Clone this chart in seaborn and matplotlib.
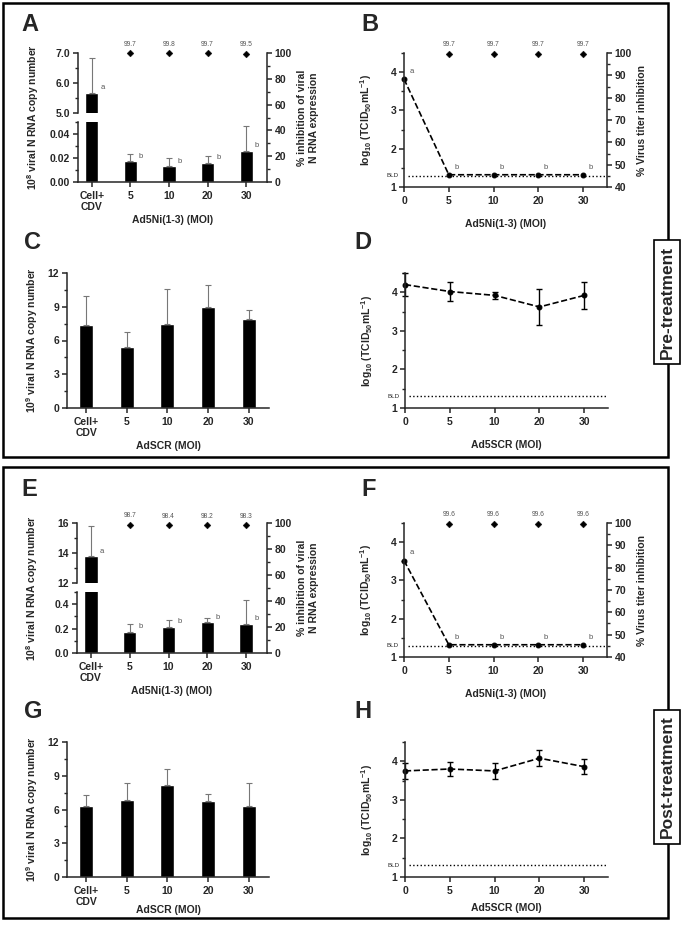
import numpy as np
import pandas as pd
import matplotlib
matplotlib.use('Agg')
import matplotlib.pyplot as plt
from matplotlib.patches import Rectangle
from matplotlib.ticker import MultipleLocator, FixedLocator
import seaborn as sns

# ---- data ----
bar_cats = ['Cell+\nCDV', '5', '10', '20', '30']
moi_labels = ['0', '5', '10', '20', '30']

A_copy = [5.68, 0.0175, 0.013, 0.016, 0.026]
A_sd = [1.15, 0.0055, 0.007, 0.006, 0.021]
A_inhib = [99.7, 99.8, 99.7, 99.5]
A_letters = ['a', 'b', 'b', 'b', 'b']

B_titer = [3.82, 1.32, 1.32, 1.32, 1.32]
B_inhib = [99.7, 99.7, 99.7, 99.7]
B_letters = ['a', 'b', 'b', 'b', 'b']

C_copy = [7.35, 5.45, 7.45, 8.95, 7.95]
C_sd = [2.65, 1.3, 3.15, 2.0, 0.75]

D_titer = [4.2, 4.02, 3.92, 3.62, 3.92]
D_sd = [0.3, 0.25, 0.1, 0.47, 0.35]

E_copy = [13.8, 0.175, 0.215, 0.255, 0.24]
E_sd = [2.0, 0.065, 0.055, 0.035, 0.195]
E_inhib = [98.7, 98.4, 98.2, 98.3]
E_letters = ['a', 'b', 'b', 'b', 'b']

F_titer = [3.52, 1.32, 1.32, 1.32, 1.32]
F_inhib = [99.6, 99.6, 99.6, 99.6]
F_letters = ['a', 'b', 'b', 'b', 'b']

G_copy = [6.3, 6.85, 8.2, 6.8, 6.3]
G_sd = [1.0, 1.5, 1.4, 0.6, 2.1]

H_titer = [3.75, 3.8, 3.75, 4.08, 3.86]
H_sd = [0.2, 0.17, 0.2, 0.2, 0.2]

BLD = 1.3

sns.set_style('ticks')
plt.rcParams['font.family'] = ['Liberation Sans', 'DejaVu Sans']
plt.rcParams['font.weight'] = 'bold'
plt.rcParams['axes.labelweight'] = 'bold'
plt.rcParams['mathtext.fontset'] = 'custom'
plt.rcParams['mathtext.rm'] = 'Liberation Sans:bold'
plt.rcParams['mathtext.bf'] = 'Liberation Sans:bold'
plt.rcParams['mathtext.it'] = 'Liberation Sans:bold:italic'
plt.rcParams['mathtext.default'] = 'bf'
plt.rcParams['axes.linewidth'] = 1.1
plt.rcParams['xtick.major.width'] = 1.1
plt.rcParams['ytick.major.width'] = 1.1
plt.rcParams['ytick.minor.width'] = 1.0
plt.rcParams['xtick.major.size'] = 3.5
plt.rcParams['ytick.major.size'] = 3.5
plt.rcParams['ytick.minor.size'] = 2
plt.rcParams['xtick.major.pad'] = 3
plt.rcParams['ytick.major.pad'] = 2

W, H = 685, 927
fig = plt.figure(figsize=(W / 100, H / 100), dpi=100)

TICK_FS = 7.5
LAB_FS = 7.5
SMALL_FS = 4.8
GREY = '#555555'


def px_axes(l, t, r, b):
    return fig.add_axes([l / W, 1 - b / H, (r - l) / W, (b - t) / H])


def clean(ax):
    ax.spines['top'].set_visible(False)
    ax.spines['right'].set_visible(False)
    ax.tick_params(labelsize=TICK_FS)


def bars(ax, vals, sd, xlim):
    df = pd.DataFrame({'group': bar_cats, 'value': vals})
    sns.barplot(data=df, x='group', y='value', order=bar_cats, color='black',
                width=0.34, errorbar=None, ax=ax, saturation=1)
    ax.errorbar(range(len(vals)), vals, yerr=[np.zeros(len(vals)), sd], fmt='none',
                ecolor='#777777', elinewidth=0.8, capsize=2, capthick=0.8)
    ax.set_xlim(*xlim)
    ax.set_xlabel('')
    ax.set_ylabel('')


def letters(ax, vals, labs, dx):
    for i, (v, s) in enumerate(zip(vals, labs)):
        ax.annotate(s, (i + dx, v), xytext=(0, 1), textcoords='offset points',
                    fontsize=5.5, color=GREY, fontweight='normal', va='bottom', ha='left')


def diamonds(axr, inhib):
    xs = list(range(1, len(inhib) + 1))
    sns.scatterplot(x=xs, y=inhib, marker='D', s=12, color='black', edgecolor='black',
                    ax=axr, clip_on=False, zorder=5)
    for x, v in zip(xs, inhib):
        axr.annotate(f'{v:.1f}', (x, v), xytext=(0, 4), textcoords='offset points',
                     fontsize=SMALL_FS, color=GREY, fontweight='normal', ha='center', va='bottom')


def inhib_overlay(box, xlim, inhib, label):
    axr = px_axes(*box)
    axr.patch.set_visible(False)
    for s in ['left', 'top', 'bottom']:
        axr.spines[s].set_visible(False)
    axr.yaxis.tick_right()
    axr.yaxis.set_label_position('right')
    axr.set_xticks([])
    axr.set_xlim(*xlim)
    axr.set_ylim(0, 100)
    axr.yaxis.set_major_locator(MultipleLocator(20))
    axr.yaxis.set_minor_locator(MultipleLocator(10))
    axr.tick_params(labelsize=TICK_FS, which='both')
    diamonds(axr, inhib)
    axr.set_ylabel(label, fontsize=LAB_FS, labelpad=4)
    return axr


def broken_panel(l, r, t, split_t, split_b, b, vals, sd, labs, up_lim, up_major, up_minor,
                 low_lim, low_major, low_minor, up_fmt, low_fmt, inhib, xlim):
    axu = px_axes(l, t, r, split_t)
    axl = px_axes(l, split_b, r, b)
    for ax, lim, mj, mn, fmt in [(axu, up_lim, up_major, up_minor, up_fmt),
                                 (axl, low_lim, low_major, low_minor, low_fmt)]:
        bars(ax, vals, sd, xlim)
        clean(ax)
        ax.set_ylim(*lim)
        ax.yaxis.set_major_locator(FixedLocator(mj))
        ax.yaxis.set_minor_locator(FixedLocator(mn))
        ax.set_yticklabels([fmt.format(v) for v in mj])
    axu.spines['bottom'].set_visible(False)
    axu.tick_params(axis='x', bottom=False, labelbottom=False)
    letters(axu, vals[:1], labs[:1], 0.22)
    letters(axl, [np.nan] + list(vals[1:]), [''] + labs[1:], 0.22)
    axl.set_xticks(range(5))
    axl.set_xticklabels(bar_cats, fontsize=TICK_FS, linespacing=1.1)
    axl.set_xlabel('Ad5Ni(1-3) (MOI)', fontsize=LAB_FS, labelpad=2)
    inhib_overlay((l, t, r, b), xlim, inhib, '% inhibition of viral\nN RNA expression')
    fig.text((l - 45) / W, 1 - (t + b) / 2 / H, '10$^8$ viral N RNA copy number',
             rotation=90, ha='center', va='center', fontsize=LAB_FS, fontweight='bold')


def titer_panel(box, vals, sd=None, inhib=None, labs=None, xlabel='', xpad=9):
    ax = px_axes(*box)
    clean(ax)
    pos = list(range(5))
    sns.lineplot(x=pos, y=vals, ax=ax, color='black', linestyle='--', dashes=(3, 2),
                 marker='o', markersize=3.5, markeredgecolor='black', lw=1.2, clip_on=False)
    if sd is not None:
        ax.errorbar(pos, vals, yerr=sd, fmt='none', ecolor='black', elinewidth=1.0,
                    capsize=2.2, capthick=1.0, clip_on=False)
    ax.axhline(BLD, ls=':', color='black', lw=1.0, xmin=0.02)
    ax.annotate('BLD', (0, BLD), xycoords=('axes fraction', 'data'), xytext=(-4, 0),
                textcoords='offset points', fontsize=4.5, fontweight='normal',
                ha='right', va='center')
    ax.set_xlim(0, 4.53)
    ax.set_ylim(1, 4.5)
    ax.set_xticks(pos)
    ax.set_xticklabels(moi_labels)
    ax.yaxis.set_major_locator(FixedLocator([1, 2, 3, 4]))
    ax.yaxis.set_minor_locator(FixedLocator([1.5, 2.5, 3.5, 4.5]))
    ax.set_ylabel('log$_{10}$ (TCID$_{50}$mL$^{-1}$)', fontsize=LAB_FS, labelpad=12)
    ax.set_xlabel(xlabel, fontsize=LAB_FS, labelpad=xpad)
    if labs is not None:
        for i, (v, s) in enumerate(zip(vals, labs)):
            ax.annotate(s, (i, v), xytext=(4, 3), textcoords='offset points',
                        fontsize=5.5, color=GREY, fontweight='normal', ha='left', va='bottom')
    if inhib is not None:
        axr = ax.twinx()
        for s in ['left', 'top', 'bottom']:
            axr.spines[s].set_visible(False)
        axr.set_ylim(40, 100)
        axr.yaxis.set_major_locator(MultipleLocator(10))
        axr.yaxis.set_minor_locator(MultipleLocator(5))
        axr.tick_params(labelsize=TICK_FS, which='both')
        diamonds(axr, inhib)
        axr.set_ylabel('% Virus titer inhibition', fontsize=LAB_FS, labelpad=4)
        axr.set_xlim(0, 4.53)
    return ax


def scr_bar_panel(box, vals, sd, xpad=2):
    ax = px_axes(*box)
    bars(ax, vals, sd, (-0.47, 4.5))
    clean(ax)
    ax.set_ylim(0, 12)
    ax.yaxis.set_major_locator(MultipleLocator(3))
    ax.yaxis.set_minor_locator(MultipleLocator(1.5))
    ax.set_xticks(range(5))
    ax.set_xticklabels(bar_cats, fontsize=TICK_FS, linespacing=1.1)
    ax.set_xlabel('AdSCR (MOI)', fontsize=LAB_FS, labelpad=xpad)
    ax.set_ylabel('10$^9$ viral N RNA copy number', fontsize=LAB_FS, labelpad=6)
    return ax


# ---- panels ----
broken_panel(78, 267, 53, 113, 122, 182, A_copy, A_sd, A_letters,
             (5, 7), [5, 6, 7], [5.5, 6.5], (0, 0.05), [0, 0.02, 0.04], [0.01, 0.03, 0.05],
             '{:.1f}', '{:.2f}', A_inhib, (-0.36, 4.54))
titer_panel((404, 53, 607, 187), B_titer, inhib=B_inhib, labs=B_letters, xlabel='Ad5Ni(1-3) (MOI)')
scr_bar_panel((67, 273, 269, 408), C_copy, C_sd)
titer_panel((405, 273, 608, 408), D_titer, sd=D_sd, xlabel='Ad5SCR (MOI)')

broken_panel(77, 267, 523, 583, 592, 653, E_copy, E_sd, E_letters,
             (12, 16), [12, 14, 16], [13, 15], (0, 0.5), [0, 0.2, 0.4], [0.1, 0.3, 0.5],
             '{:.0f}', '{:.1f}', E_inhib, (-0.36, 4.54))
titer_panel((404, 523, 607, 657), F_titer, inhib=F_inhib, labs=F_letters, xlabel='Ad5Ni(1-3) (MOI)')
scr_bar_panel((67, 742, 269, 877), G_copy, G_sd, xpad=-1)
titer_panel((405, 742, 608, 877), H_titer, sd=H_sd, xlabel='Ad5SCR (MOI)', xpad=5)

# ---- panel letters ----
for s, x, y in [('A', 21, 13), ('B', 361, 13), ('C', 24, 231), ('D', 354, 231),
                ('E', 21, 478), ('F', 361, 478), ('G', 24, 700), ('H', 354, 700)]:
    fig.text(x / W, 1 - y / H, s, fontsize=17, fontweight='bold', ha='left', va='top')

# ---- frames ----
for (x0, y0, x1, y1) in [(3, 3, 668, 457), (3, 467, 668, 918)]:
    fig.patches.append(Rectangle((x0 / W, 1 - y1 / H), (x1 - x0) / W, (y1 - y0) / H,
                                 transform=fig.transFigure, fill=False, ec='black', lw=1.8))

for txt, yc in [('Pre-treatment', 302), ('Post-treatment', 777)]:
    fig.text(667 / W, 1 - yc / H, txt, rotation=90, ha='center', va='center', fontsize=12.5,
             fontweight='bold',
             bbox=dict(boxstyle='square,pad=0.3', fc='white', ec='black', lw=1.2))

fig.savefig('out.png', dpi=100)
